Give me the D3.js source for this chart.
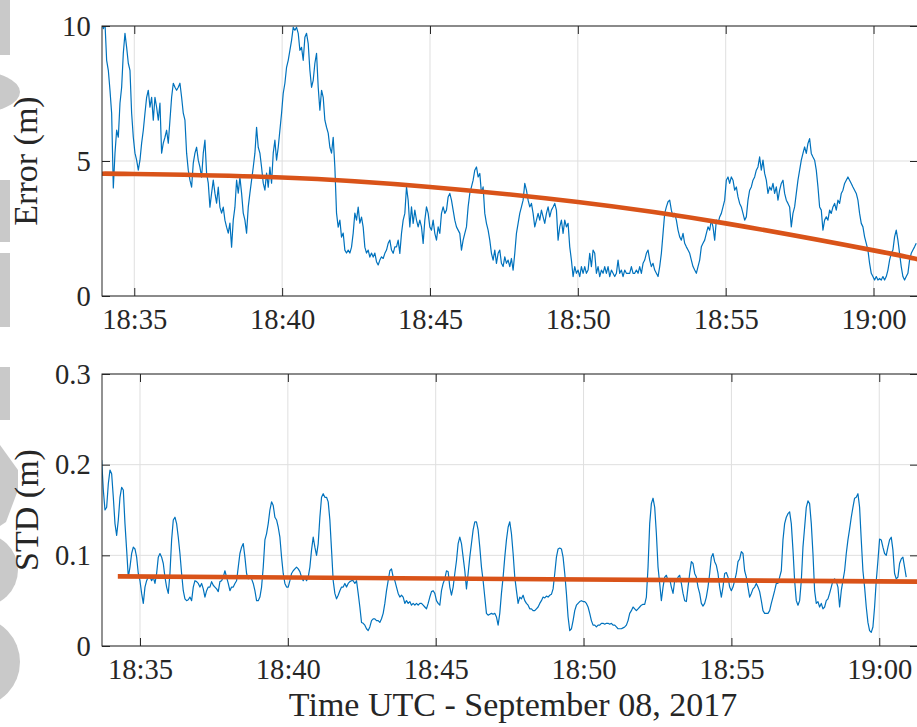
<!DOCTYPE html>
<html>
<head>
<meta charset="utf-8">
<script src="https://cdn.jsdelivr.net/npm/d3@7"></script>
<style>
  html, body { margin: 0; padding: 0; background: #ffffff; }
  svg { display: block; }
</style>
</head>
<body>
<svg id="fig" width="917" height="727"></svg>
<script>
// ---------------------------------------------------------------------------
// Positioning error and its standard deviation, 2017-09-08, 18:34 - 19:01 UTC
// Both series are resampled every SAMPLE_SEC seconds.
// ---------------------------------------------------------------------------
const SAMPLE_SEC = 3.38;

// Error (m), first sample at 18:33:53.8
const errorStart = [18, 33, 53.8];
const errorPart1 = [
  10.2, 9.9, 10.1, 8.73, 8.36, 7.62, 6.77, 4.0, 5.29, 6.14,
  5.88, 7.14, 7.73, 8.99, 9.73, 9.21, 8.62, 8.36, 6.77, 5.88,
  5.29, 5.03, 4.66, 5.03, 5.66, 6.14, 6.77, 7.36, 7.62, 6.99,
  7.36, 6.51, 7.36, 6.99, 6.51, 7.14, 5.29, 5.66, 5.88, 6.14,
  5.66, 6.51, 7.36, 7.88, 7.73, 7.62, 7.73, 7.88, 7.36, 6.77,
  6.51, 5.29, 4.66, 4.29, 4.03, 4.92, 5.29, 5.51, 5.03, 4.77,
  4.40, 5.29, 5.77, 4.55, 4.18, 3.29, 3.81, 4.29, 3.81, 3.44,
  4.03, 3.29, 3.07, 3.29, 2.81, 2.55, 2.33, 2.70, 1.81, 2.81,
  3.29, 4.29, 3.81, 4.40, 3.81, 3.07, 2.81, 2.33, 3.29, 3.81,
  4.29, 4.77, 5.29, 6.25, 5.51, 5.29, 4.77, 4.18, 3.92, 4.55,
  4.03, 4.77, 4.18, 5.29, 5.77, 5.03, 5.51, 6.14, 6.77, 7.51,
  7.88, 8.47, 8.73, 9.10, 9.47, 9.95, 9.84, 9.95, 9.73, 9.10,
  9.21, 8.73, 9.58, 9.73, 9.35, 8.36, 7.73, 7.99, 8.62, 8.99,
  7.73, 6.88, 7.62, 7.36, 6.51, 6.25, 6.03, 5.51, 5.29, 5.88,
  4.77, 3.07, 2.55, 2.81, 2.18, 2.33, 1.70, 1.59, 1.70, 1.59,
  1.81, 2.33, 3.07, 2.81, 3.29, 2.70, 2.92, 2.55, 1.81, 1.59,
  1.70, 1.44, 1.59, 1.44, 1.59
];
const errorPart2 = [
  1.27, 1.15, 1.33, 1.45, 1.39, 1.58, 1.70, 1.95, 2.07, 1.70,
  1.58, 1.82, 1.82, 2.07, 1.58, 2.32, 2.81, 3.06, 4.04, 3.55,
  2.56, 3.30, 2.69, 3.18, 2.81, 2.56, 2.81, 2.56, 1.95, 2.81,
  3.30, 3.06, 2.56, 2.44, 2.81, 2.32, 2.07, 2.56, 2.32, 3.06,
  3.30, 3.06, 3.18, 3.67, 3.80, 3.55, 3.18, 2.81, 2.56, 2.44,
  2.32, 1.70, 2.07, 2.32, 2.56, 3.30, 3.80, 4.04, 4.29, 4.66,
  4.78, 4.41, 4.54, 3.80, 4.04, 3.06, 2.69, 2.44, 2.07, 1.58,
  1.33, 1.70, 1.21, 1.58, 1.70, 1.21, 1.09, 1.45, 1.21, 1.33,
  1.09, 1.39, 0.96, 1.58, 2.32, 2.69, 3.06, 3.30, 3.55, 4.17,
  3.92, 3.55, 3.30, 3.43, 3.06, 2.56, 2.81, 3.06, 2.81, 3.18,
  2.93, 2.69, 3.06, 3.30, 2.93, 3.18, 3.30, 3.43, 3.18, 2.07,
  2.56, 2.81, 2.32, 2.81, 2.56, 2.69, 1.82, 1.33, 0.72, 1.09,
  0.84, 0.96, 0.72, 1.09, 0.84, 1.09, 0.84, 0.96, 1.58, 1.09,
  1.70, 1.58, 0.84, 1.09, 0.72, 0.96, 0.84, 1.09, 0.84, 1.09,
  0.72, 0.96, 0.84, 0.72, 0.84, 1.33, 0.84, 0.96, 0.72, 0.96,
  0.84, 0.84, 0.84, 1.09, 0.84, 0.84, 0.96, 0.84, 1.09, 0.84,
  1.21, 1.33
];
const errorPart3 = [
  1.58, 1.70, 1.33, 1.09, 1.21, 0.96, 0.84, 0.72, 1.09, 1.58,
  2.32, 3.06, 3.30, 3.49, 3.55, 3.18, 2.93, 3.06, 2.81, 2.44,
  2.19, 2.07, 2.32, 1.95, 1.82, 1.70, 1.58, 1.33, 1.09, 0.96,
  0.84, 1.09, 1.33, 1.82, 1.95, 2.07, 2.32, 2.56, 2.44, 2.81,
  2.56, 2.07, 2.81, 2.69, 2.93, 3.06, 3.30, 3.55, 4.29, 4.41,
  4.17, 4.41, 4.29, 3.92, 4.04, 3.67, 3.43, 3.30, 3.06, 2.81,
  2.93, 3.55, 3.92, 4.04, 4.29, 4.41, 4.66, 4.78, 5.15, 4.66,
  5.03, 4.54, 4.29, 3.80, 4.04, 3.92, 4.17, 3.80, 4.04, 3.55,
  3.92, 4.17, 4.29, 3.80, 3.55, 3.43, 3.30, 2.56, 3.06, 3.30,
  3.80, 4.29, 4.66, 5.03, 5.28, 5.52, 5.28, 5.65, 5.83, 5.28,
  5.15, 5.03, 4.66, 4.04, 3.30, 3.18, 2.44, 2.81, 2.93, 2.81,
  3.18, 3.06, 3.30, 3.43, 3.18, 3.55, 3.43, 3.80, 3.92, 4.17,
  4.29, 4.41, 4.29, 4.17, 4.04, 3.92, 3.80, 3.55, 3.06, 2.69,
  2.56, 2.19, 1.95, 1.70, 1.21, 0.84, 0.72, 0.59, 0.72, 0.59,
  0.65, 0.59, 0.72, 0.59, 0.72, 0.96, 1.33, 1.58, 1.70, 2.19,
  2.44, 2.07, 1.58, 1.09, 0.72, 0.59, 0.72, 0.84, 1.33, 1.58,
  1.70, 1.82, 1.95
];

// STD (m), first sample at 18:33:42.2
const stdStart = [18, 33, 42.2];
const stdPart1 = [
  0.205, 0.172, 0.150, 0.153, 0.179, 0.194, 0.190, 0.164, 0.135, 0.122,
  0.139, 0.164, 0.175, 0.172, 0.135, 0.106, 0.076, 0.087, 0.102, 0.109,
  0.107, 0.098, 0.080, 0.072, 0.058, 0.047, 0.065, 0.072, 0.076, 0.076,
  0.072, 0.076, 0.069, 0.080, 0.098, 0.102, 0.098, 0.091, 0.076, 0.065,
  0.058, 0.080, 0.117, 0.139, 0.142, 0.135, 0.120, 0.102, 0.080, 0.061,
  0.052, 0.050, 0.051, 0.054, 0.050, 0.065, 0.072, 0.071, 0.069, 0.065,
  0.069, 0.063, 0.054, 0.061, 0.065, 0.065, 0.071, 0.067, 0.065, 0.063,
  0.060, 0.071, 0.072, 0.076, 0.083, 0.076, 0.069, 0.061, 0.065, 0.065,
  0.069, 0.072, 0.087, 0.102, 0.109, 0.113, 0.098, 0.080, 0.074, 0.076,
  0.074, 0.069, 0.061, 0.050, 0.050, 0.054, 0.065, 0.087, 0.117, 0.124,
  0.135, 0.150, 0.159, 0.155, 0.142, 0.139, 0.131, 0.120, 0.098, 0.080,
  0.069, 0.065, 0.065, 0.072, 0.080, 0.083, 0.085, 0.087, 0.085, 0.082,
  0.076, 0.072, 0.076, 0.072, 0.076, 0.087, 0.106, 0.120, 0.109, 0.100,
  0.113, 0.142, 0.164, 0.168, 0.164, 0.164, 0.159, 0.139, 0.106, 0.072,
  0.058, 0.052, 0.056, 0.061, 0.065, 0.065, 0.069, 0.065, 0.069, 0.071,
  0.072, 0.072, 0.069, 0.072, 0.058, 0.043, 0.026, 0.025, 0.023, 0.019,
  0.017, 0.021, 0.028, 0.030, 0.030
];
const stdPart2 = [
  0.028, 0.028, 0.026, 0.030, 0.036, 0.047, 0.061, 0.072, 0.083, 0.085,
  0.076, 0.072, 0.065, 0.058, 0.054, 0.056, 0.054, 0.047, 0.050, 0.047,
  0.049, 0.045, 0.047, 0.045, 0.047, 0.045, 0.047, 0.047, 0.045, 0.043,
  0.041, 0.047, 0.054, 0.060, 0.061, 0.058, 0.050, 0.047, 0.045, 0.061,
  0.069, 0.074, 0.083, 0.082, 0.065, 0.056, 0.065, 0.080, 0.094, 0.113,
  0.120, 0.113, 0.098, 0.083, 0.063, 0.080, 0.098, 0.113, 0.128, 0.137,
  0.137, 0.128, 0.109, 0.087, 0.072, 0.054, 0.036, 0.034, 0.035, 0.036,
  0.035, 0.036, 0.032, 0.023, 0.036, 0.058, 0.076, 0.098, 0.117, 0.131,
  0.137, 0.124, 0.102, 0.076, 0.061, 0.047, 0.054, 0.052, 0.056, 0.050,
  0.047, 0.045, 0.041, 0.041, 0.039, 0.039, 0.041, 0.043, 0.047, 0.050,
  0.054, 0.053, 0.055, 0.054, 0.056, 0.057, 0.063, 0.080, 0.098, 0.107,
  0.108, 0.107, 0.098, 0.080, 0.058, 0.032, 0.017, 0.019, 0.028, 0.039,
  0.045, 0.047, 0.049, 0.050, 0.049, 0.049, 0.047, 0.043, 0.036, 0.028,
  0.023, 0.023, 0.021, 0.023, 0.023, 0.025, 0.025, 0.024, 0.025, 0.025,
  0.024, 0.025, 0.023, 0.023, 0.021, 0.019, 0.019, 0.019, 0.020, 0.021,
  0.023, 0.028, 0.036, 0.039, 0.043, 0.041, 0.039, 0.041, 0.043, 0.045,
  0.046, 0.046
];
const stdPart3 = [
  0.054, 0.087, 0.135, 0.157, 0.163, 0.153, 0.124, 0.087, 0.069, 0.050,
  0.065, 0.076, 0.078, 0.072, 0.074, 0.065, 0.058, 0.072, 0.071, 0.076,
  0.078, 0.069, 0.058, 0.050, 0.049, 0.065, 0.080, 0.093, 0.091, 0.080,
  0.076, 0.065, 0.058, 0.047, 0.044, 0.047, 0.054, 0.065, 0.080, 0.098,
  0.102, 0.093, 0.089, 0.080, 0.065, 0.054, 0.065, 0.080, 0.081, 0.076,
  0.065, 0.061, 0.065, 0.072, 0.080, 0.093, 0.096, 0.104, 0.102, 0.083,
  0.076, 0.065, 0.054, 0.058, 0.063, 0.065, 0.069, 0.065, 0.060, 0.050,
  0.039, 0.036, 0.036, 0.036, 0.039, 0.047, 0.054, 0.061, 0.069, 0.069,
  0.076, 0.083, 0.117, 0.135, 0.142, 0.146, 0.148, 0.135, 0.106, 0.072,
  0.050, 0.045, 0.050, 0.072, 0.109, 0.131, 0.153, 0.160, 0.157, 0.135,
  0.102, 0.061, 0.047, 0.049, 0.043, 0.047, 0.041, 0.043, 0.050, 0.052,
  0.058, 0.065, 0.072, 0.074, 0.071, 0.065, 0.043, 0.061, 0.072, 0.083,
  0.102, 0.117, 0.129, 0.142, 0.153, 0.163, 0.164, 0.168, 0.153, 0.117,
  0.083, 0.065, 0.043, 0.026, 0.017, 0.015, 0.021, 0.043, 0.072, 0.094,
  0.118, 0.117, 0.109, 0.102, 0.100, 0.109, 0.117, 0.120, 0.106, 0.080,
  0.074, 0.076, 0.091, 0.096, 0.098, 0.087, 0.076
];

// Quadratic trend of the error and linear trend of the STD
const errorTrendTimes  = ["18:33:54", "18:35:00", "18:40:00", "18:45:00", "18:50:00", "18:55:00", "19:00:00", "19:01:30"];
const errorTrendValues = [4.53, 4.52, 4.39, 4.04, 3.48, 2.69, 1.69, 1.36];
const stdTrendTimes    = ["18:34:15", "19:01:30"];
const stdTrendValues   = [0.0768, 0.0709];

// Axis ticks
const errorTicks = [0, 5, 10];
const stdTicks   = [0, 0.1, 0.2, 0.3];
const xLabel     = "Time UTC - September 08, 2017";
const errorLabel = "Error (m)";
const stdLabel   = "STD (m)";

// ---------------------------------------------------------------------------
const day = (h, m, s) => new Date(Date.UTC(2017, 8, 8, h, m, 0) + Math.round(s * 1000));
const parseHMS = str => { const [h, m, s] = str.split(":").map(Number); return day(h, m, s); };
const sampled = (start, values) => values.map((v, i) => ({
  t: new Date(day(start[0], start[1], start[2]).getTime() + i * SAMPLE_SEC * 1000), v
}));

const errorSeries = sampled(errorStart, [...errorPart1, ...errorPart2, ...errorPart3]);
const stdSeries   = sampled(stdStart,   [...stdPart1, ...stdPart2, ...stdPart3]);
const errorTrend  = errorTrendTimes.map((s, i) => ({ t: parseHMS(s), v: errorTrendValues[i] }));
const stdTrend    = stdTrendTimes.map((s, i) => ({ t: parseHMS(s), v: stdTrendValues[i] }));

const BLUE = "#0072BD", ORANGE = "#D95319", AXIS = "#262626", GRID = "#dfdfdf";
const FONT = "'Liberation Serif', 'Times New Roman', serif";
const TICK_FS = 28.6, LABEL_FS = 34;

const svg = d3.select("#fig");
svg.append("rect").attr("width", 917).attr("height", 727).attr("fill", "#fff");

// grey page stamp running down the left margin
const stamp = svg.append("g").attr("fill", "#c9c9c9");
stamp.append("rect").attr("x", -10).attr("y", 0).attr("width", 20).attr("height", 55);
stamp.append("ellipse").attr("cx", -25).attr("cy", 92).attr("rx", 45).attr("ry", 21);
stamp.append("rect").attr("x", -10).attr("y", 180).attr("width", 20).attr("height", 62);
stamp.append("rect").attr("x", -10).attr("y", 253).attr("width", 20).attr("height", 74);
stamp.append("rect").attr("x", -10).attr("y", 367).attr("width", 20).attr("height", 53);
stamp.append("polygon").attr("points", "0,445 18,470 18,490 6,522 0,526");
stamp.append("ellipse").attr("cx", -20).attr("cy", 570).attr("rx", 38).attr("ry", 37);
stamp.append("ellipse").attr("cx", -22).attr("cy", 662).attr("rx", 42).attr("ry", 44);

const L = 102, R = 918;

function panel(cfg) {
  const x = d3.scaleUtc().domain(cfg.xDomain).range([L, R]);
  const y = d3.scaleLinear().domain(cfg.yDomain).range([cfg.bottom, cfg.top]);
  const g = svg.append("g");
  const minuteTicks = x.ticks(d3.utcMinute.every(5));

  // grid
  const grid = g.append("g").attr("stroke", GRID).attr("stroke-width", 1);
  grid.selectAll("line.gx").data(minuteTicks).join("line")
    .attr("x1", d => x(d)).attr("x2", d => x(d))
    .attr("y1", cfg.top).attr("y2", cfg.bottom);
  grid.selectAll("line.gy").data(cfg.yTicks).join("line")
    .attr("x1", L).attr("x2", R)
    .attr("y1", d => y(d)).attr("y2", d => y(d));

  // data
  const clipId = "clip-" + cfg.id;
  svg.append("clipPath").attr("id", clipId).append("rect")
    .attr("x", L).attr("y", cfg.top).attr("width", R - L).attr("height", cfg.bottom - cfg.top);
  const plot = g.append("g").attr("clip-path", `url(#${clipId})`);
  plot.append("path").datum(cfg.series)
    .attr("fill", "none").attr("stroke", BLUE).attr("stroke-width", 1.2)
    .attr("stroke-linejoin", "round")
    .attr("d", d3.line().x(d => x(d.t)).y(d => y(d.v)));
  plot.append("path").datum(cfg.trend)
    .attr("fill", "none").attr("stroke", ORANGE).attr("stroke-width", 4.6)
    .attr("d", d3.line().curve(d3.curveNatural).x(d => x(d.t)).y(d => y(d.v)));

  // axes with inward ticks on all four sides
  const styleAxis = sel => {
    sel.attr("font-family", FONT).attr("font-size", TICK_FS);
    sel.select(".domain").remove();
    sel.selectAll(".tick line").attr("stroke", AXIS).attr("stroke-width", 1);
    sel.selectAll(".tick text").attr("fill", AXIS)
      .style("font-family", FONT).style("font-size", TICK_FS + "px");
  };
  g.append("g").attr("transform", `translate(0,${cfg.bottom})`)
    .call(d3.axisBottom(x).tickValues(minuteTicks).tickFormat(d3.utcFormat("%H:%M"))
      .tickSizeInner(-8).tickSizeOuter(0).tickPadding(12.6))
    .call(styleAxis);
  g.append("g").attr("transform", `translate(0,${cfg.top})`)
    .call(d3.axisTop(x).tickValues(minuteTicks).tickFormat("").tickSizeInner(-8).tickSizeOuter(0))
    .call(styleAxis);
  g.append("g").attr("transform", `translate(${L},0)`)
    .call(d3.axisLeft(y).tickValues(cfg.yTicks).tickFormat(cfg.yFormat)
      .tickSizeInner(-8).tickSizeOuter(0).tickPadding(11.3))
    .call(styleAxis);
  g.append("g").attr("transform", `translate(${R},0)`)
    .call(d3.axisRight(y).tickValues(cfg.yTicks).tickFormat("").tickSizeInner(-8).tickSizeOuter(0))
    .call(styleAxis);

  // box
  g.append("rect").attr("x", L).attr("y", cfg.top).attr("width", R - L).attr("height", cfg.bottom - cfg.top)
    .attr("fill", "none").attr("stroke", AXIS).attr("stroke-width", 1);

  // y label
  g.append("text")
    .attr("transform", `translate(${cfg.labelX},${(cfg.top + cfg.bottom) / 2}) rotate(-90)`)
    .attr("text-anchor", "middle").attr("fill", AXIS)
    .style("font-family", FONT).style("font-size", LABEL_FS + "px")
    .text(cfg.label);
}

panel({
  id: "error", top: 26, bottom: 296,
  xDomain: [day(18, 33, 54.5), day(19, 1, 30.2)],
  yDomain: [0, 10], yTicks: errorTicks, yFormat: d3.format("d"),
  series: errorSeries, trend: errorTrend, label: errorLabel, labelX: 37
});
panel({
  id: "std", top: 374, bottom: 646,
  xDomain: [day(18, 33, 42.9), day(19, 1, 18.6)],
  yDomain: [0, 0.3], yTicks: stdTicks, yFormat: d => d3.format(".1~f")(d),
  series: stdSeries, trend: stdTrend, label: stdLabel, labelX: 38
});

svg.append("text")
  .attr("x", 513).attr("y", 715.6).attr("text-anchor", "middle").attr("fill", AXIS)
  .style("font-family", FONT).style("font-size", LABEL_FS + "px")
  .text(xLabel);
</script>
</body>
</html>
